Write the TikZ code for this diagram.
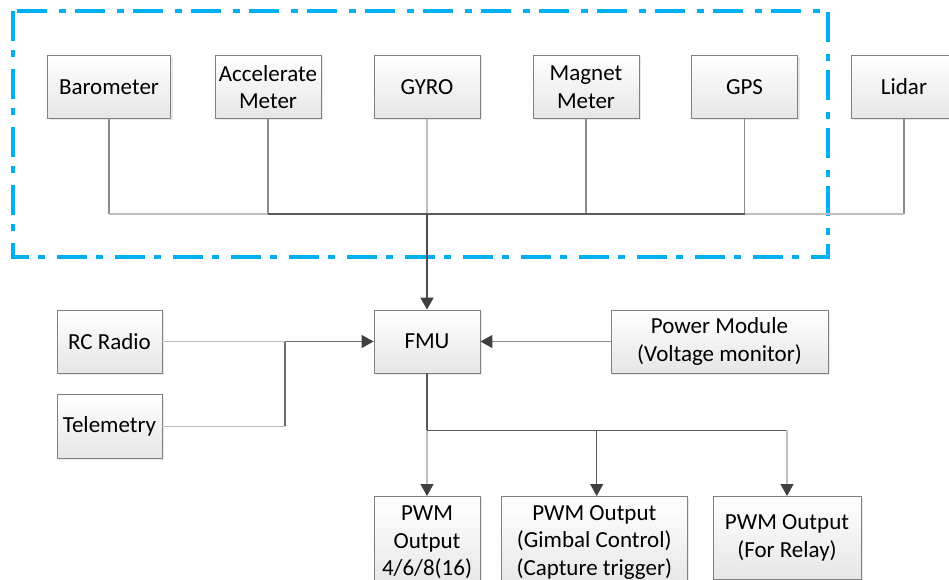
\documentclass[tikz,border=0pt]{standalone}
\usepackage{fontspec}
\setmainfont{Carlito}
\usetikzlibrary{arrows.meta,shadows}
\definecolor{framecyan}{RGB}{0,176,240}
\definecolor{boxedge}{RGB}{128,128,128}
\definecolor{boxbot}{RGB}{230,230,230}
\definecolor{lnlight}{RGB}{190,190,190}
\definecolor{lnmid}{RGB}{140,140,140}
\definecolor{lndark}{RGB}{90,90,90}
\definecolor{tipc}{RGB}{64,64,64}
\tikzset{
  blk/.style={draw=boxedge, line width=0.9pt, top color=white, bottom color=boxbot,
    inner sep=0pt, align=center, text=black,
    font=\fontsize{23}{27.5}\selectfont, minimum height=63pt,
    drop shadow={shadow xshift=2pt, shadow yshift=-2pt, opacity=0.18, fill=gray}},
  lnl/.style={draw=lnlight, line width=1.4pt},
  lnm/.style={draw=lnmid, line width=1.2pt},
  lnd/.style={draw=lndark, line width=1.4pt},
  tip/.style={-{Triangle[length=12pt,width=13pt,color=tipc]}},
  frame/.style={draw=framecyan, line width=3.5pt, dash pattern=on 30pt off 9pt on 7pt off 12pt}
}
\begin{document}
\begin{tikzpicture}[x=1pt,y=-1pt]
\useasboundingbox (0,0) rectangle (949,580);
% frame
\draw[frame] (13,11) rectangle (828,257);
% top row
\node[blk, minimum width=123pt] (baro) at (109,87) {Barometer};
\node[blk, minimum width=106pt] (acc) at (268,87) {Accelerate\\Meter};
\node[blk, minimum width=106pt] (gyro) at (427,87) {GYRO};
\node[blk, minimum width=106pt] (mag) at (586,87) {Magnet\\Meter};
\node[blk, minimum width=106pt] (gps) at (744.5,87) {GPS};
\node[blk, minimum width=106pt] (lidar) at (904,87) {Lidar};
% middle
\node[blk, minimum width=106pt] (fmu) at (427,341.5) {FMU};
\node[blk, minimum width=105pt] (rc) at (109.5,341.5) {RC Radio};
\node[blk, minimum width=105pt, minimum height=64pt] (tele) at (109.5,426.3) {Telemetry};
\node[blk, minimum width=217pt] (power) at (719.5,341.5) {Power Module\\(Voltage monitor)};
% bottom
\node[blk, minimum width=106pt, minimum height=92pt, anchor=north] (pwma) at (427,496) {PWM\\Output\\4/6/8(16)};
\node[blk, minimum width=186pt, minimum height=92pt, anchor=north] (pwmb) at (594.3,496) {PWM Output\\(Gimbal Control)\\(Capture trigger)};
\node[blk, minimum width=148pt, minimum height=83pt, anchor=north] (pwmc) at (787,496) {PWM Output\\(For Relay)};
% bus coordinates
\coordinate (bus) at (427,214);
\coordinate (tj) at (285,341.5);
\coordinate (oj) at (427,430.3);
% sensor bus
\draw[lnm] (baro.south) -- (baro.south |- bus);
\draw[lnl] (baro.south |- bus) -- (acc.south |- bus);
\draw[lnm] (acc.south) -- (acc.south |- bus);
\draw[lnl] (gyro.south) -- (bus);
\draw[lnm] (mag.south) -- (mag.south |- bus);
\draw[lnm] (gps.south) -- (gps.south |- bus);
\draw[lnm] (lidar.south) -- (lidar.south |- bus);
\draw[lnd] (acc.south |- bus) -- (gps.south |- bus);
\draw[lnl] (gps.south |- bus) -- (lidar.south |- bus);
\draw[lnd, line width=1.8pt, draw=black!70, tip] (bus) -- (fmu.north);
% inputs
\draw[lnl] (rc.east) -- (tj);
\draw[lnl] (tele.east) -- (tele.east -| tj);
\draw[lnm, draw=black!58, line width=1.6pt] (tele.east -| tj) -- (tj);
\draw[lnm, draw=black!58, line width=1.6pt, tip] (tj) -- (fmu.west);
\draw[lnm, tip] (power.west) -- (fmu.east);
% outputs
\draw[lnd, draw=black!65, line width=1.6pt] (fmu.south) -- (oj);
\draw[lnl, tip] (oj) -- (pwma.north);
\draw[lnd, draw=black!65, line width=1.4pt] (oj) -- (oj -| pwmc.north);
\draw[lnd, tip] (596.7,430.3) coordinate (ob) -- (ob |- pwmb.north);
\draw[lnl, tip] (oj -| pwmc.north) -- (pwmc.north);
\end{tikzpicture}
\end{document}
